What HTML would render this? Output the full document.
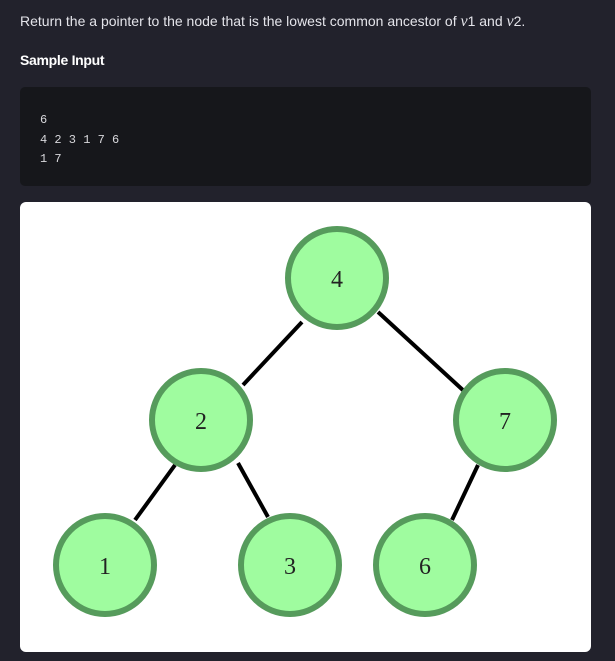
<!DOCTYPE html>
<html><head><style>
body{margin:0;width:615px;height:661px;background:#22222c;overflow:hidden;font-family:"Liberation Sans",sans-serif;position:relative}
.t{position:absolute;left:20px;top:13px;color:#e4e4ea;font-size:14px}
.t i{font-family:"Liberation Serif",serif;font-size:16px}
.h{position:absolute;left:20px;top:52px;color:#fff;font-weight:bold;font-size:14px;letter-spacing:-0.3px}
.code{position:absolute;left:20px;top:87px;width:571px;height:99px;background:#16171b;border-radius:5px}
.code pre{margin:0;position:absolute;left:20px;top:24px;color:#d8d8dc;font-family:"Liberation Mono",monospace;font-size:12px;line-height:19.5px}
.p{position:absolute;left:20px;top:202px;width:571px;height:450px;background:#fff;border-radius:6px}
</style></head><body>
<div class="t">Return the a pointer to the node that is the lowest common ancestor of <i>v</i>1 and <i>v</i>2.</div>
<div class="h">Sample Input</div>
<div class="code"><pre>6
4 2 3 1 7 6
1 7</pre></div>
<div class="p"></div>
<svg width="615" height="661" style="position:absolute;left:0;top:0">
<g stroke="#000" stroke-width="4">
<line x1="302" y1="322" x2="243" y2="385"/>
<line x1="378" y1="312" x2="465" y2="392"/>
<line x1="175" y1="465" x2="135" y2="520"/>
<line x1="238" y1="463" x2="268" y2="517"/>
<line x1="478" y1="465" x2="452" y2="520"/>
</g>
<g fill="#9ffc9f" stroke="#569b5c" stroke-width="6">
<circle cx="337" cy="278" r="49"/>
<circle cx="201" cy="420" r="49"/>
<circle cx="505" cy="420" r="49"/>
<circle cx="105" cy="565" r="49"/>
<circle cx="290" cy="565" r="49"/>
<circle cx="425" cy="565" r="49"/>
</g>
<g font-family="Liberation Serif,serif" font-size="24" fill="#222" text-anchor="middle">
<text x="337" y="287">4</text>
<text x="201" y="429">2</text>
<text x="505" y="429">7</text>
<text x="105" y="574">1</text>
<text x="290" y="574">3</text>
<text x="425" y="574">6</text>
</g>
</svg>
</body></html>
